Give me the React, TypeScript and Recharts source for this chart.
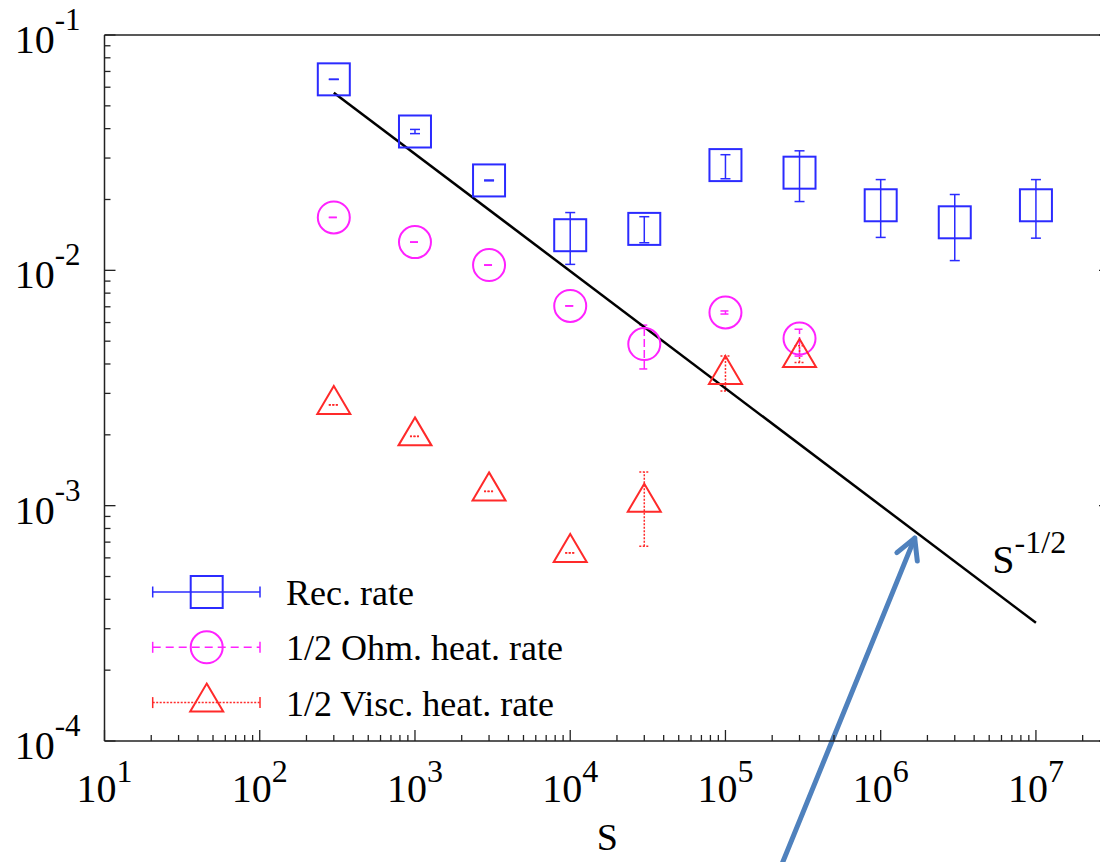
import React from 'react';
import {
  ScatterChart,
  Scatter,
  XAxis,
  YAxis,
  ErrorBar,
  ReferenceLine,
  ReferenceDot,
  Legend,
} from 'recharts';

const FONT = '"Liberation Serif", "Times New Roman", Times, serif';
const BLUE = '#2b2bff';
const MAGENTA = '#ff22ff';
const RED = '#ff2a2a';
const AXIS = '#222222';
const ARROW = '#4f81bd';

// ---- data ----
const recS = [3e2, 1e3, 3e3, 1e4, 3e4, 1e5, 3e5, 1e6, 3e6, 1e7];
const recRate = [0.0648, 0.0389, 0.0241, 0.0141, 0.015, 0.028, 0.026, 0.0189, 0.016, 0.0189];
const recLow = [0.0647, 0.0381, 0.0240, 0.0106, 0.0131, 0.0245, 0.0196, 0.0138, 0.011, 0.0137];
const recHigh = [0.0649, 0.0397, 0.0242, 0.0176, 0.0169, 0.031, 0.0322, 0.0243, 0.021, 0.0243];

const ohmS = [3e2, 1e3, 3e3, 1e4, 3e4, 1e5, 3e5];
const ohmRate = [0.01678, 0.01318, 0.01053, 0.00706, 0.00486, 0.00662, 0.00513];
const ohmLow = [0.01676, 0.01316, 0.01051, 0.00705, 0.00381, 0.00652, 0.00432];
const ohmHigh = [0.0168, 0.0132, 0.01055, 0.00707, 0.00585, 0.00672, 0.00562];

const viscS = [3e2, 1e3, 3e3, 1e4, 3e4, 1e5, 3e5];
const viscRate = [0.00268, 0.00197, 0.00115, 0.00063, 0.00103, 0.00359, 0.00424];
const viscLow = [0.002675, 0.001966, 0.001148, 0.000629, 0.000672, 0.00307, 0.00406];
const viscHigh = [0.002685, 0.001974, 0.001152, 0.000631, 0.00139, 0.00432, 0.00478];

const fitS = [3e2, 1e7];
const fitVal = [0.0569, 0.000318];

const xMajorTicks = [1e1, 1e2, 1e3, 1e4, 1e5, 1e6, 1e7];
const yMajorTicks = [1e-4, 1e-3, 1e-2, 1e-1];
const minorMultipliers = [2, 3, 4, 5, 6, 7, 8, 9];
const xDomain: [number, number] = [10, 3e7];
const yDomain: [number, number] = [1e-4, 1e-1];

const slopeLabel = { x: 5.24e6, y: 5.15e-4, base: 'S', exp: '-1/2' };
const arrowTail = { x: 2.23e5, y: 2.83e-5 };
const arrowTip = { x: 1.656e6, y: 7.28e-4 };

const xAxisTitle = 'S';

// ---- derived tables ----
const buildSeries = (s: number[], v: number[], lo: number[], hi: number[]) =>
  s.map((sv, i) => ({ s: sv, v: v[i], err: [v[i] - lo[i], hi[i] - v[i]] }));

const recData = buildSeries(recS, recRate, recLow, recHigh);
const ohmData = buildSeries(ohmS, ohmRate, ohmLow, ohmHigh);
const viscData = buildSeries(viscS, viscRate, viscLow, viscHigh);
const fitData = fitS.map((s, i) => ({ s, v: fitVal[i] }));

const withMinor = (majors: number[], maxV: number) => {
  const out: number[] = [];
  majors.forEach((m) => {
    out.push(m);
    minorMultipliers.forEach((k) => {
      const v = m * k;
      if (v <= maxV * 1.0001) out.push(v);
    });
  });
  return out.filter((v) => v <= maxV * 1.0001);
};
const xTicks = withMinor(xMajorTicks, xDomain[1]);
const yTicks = withMinor(yMajorTicks, yDomain[1]);

const isMajor = (v: number) => {
  const l = Math.log10(v);
  return Math.abs(l - Math.round(l)) < 1e-6;
};
const expOf = (v: number) => Math.round(Math.log10(v));

const MAJOR_LEN = 11;
const MINOR_LEN = 6;

// ---- markers ----
type Kind = 'square' | 'circle' | 'triangle';
const drawMarker = (kind: Kind, cx: number, cy: number, color: string) => {
  if (kind === 'square') {
    return <rect x={cx - 16} y={cy - 16} width={32} height={32} fill="none" stroke={color} strokeWidth={2} />;
  }
  if (kind === 'circle') {
    return <circle cx={cx} cy={cy} r={16} fill="none" stroke={color} strokeWidth={2} />;
  }
  return (
    <polygon
      points={`${cx},${cy - 19} ${cx + 16.5},${cy + 9} ${cx - 16.5},${cy + 9}`}
      fill="none"
      stroke={color}
      strokeWidth={2}
    />
  );
};

// ---- ticks ----
const renderBottomTick = (props: any) => {
  const { x, y, payload } = props;
  const v = payload.value;
  const major = isMajor(v);
  return (
    <g>
      <line x1={x} y1={y} x2={x} y2={y - (major ? MAJOR_LEN : MINOR_LEN)} stroke={AXIS} strokeWidth={1.3} />
      {major && (
        <text x={x} y={y + 61} textAnchor="middle" fontFamily={FONT} fontSize={40} fill="#000">
          10
          <tspan dy={-20} fontSize={32}>
            {expOf(v)}
          </tspan>
        </text>
      )}
    </g>
  );
};

const renderTopTick = (props: any) => {
  const { x, y, payload } = props;
  const major = isMajor(payload.value);
  return <line x1={x} y1={y} x2={x} y2={y + (major ? MAJOR_LEN : MINOR_LEN)} stroke={AXIS} strokeWidth={1.3} />;
};

const renderLeftTick = (props: any) => {
  const { x, y, payload } = props;
  const v = payload.value;
  const major = isMajor(v);
  return (
    <g>
      <line x1={x} y1={y} x2={x + (major ? MAJOR_LEN : MINOR_LEN)} y2={y} stroke={AXIS} strokeWidth={1.3} />
      {major && (
        <text x={x - 24} y={y + 18} textAnchor="end" fontFamily={FONT} fontSize={40} fill="#000">
          10
          <tspan dy={-23} fontSize={31}>
            {expOf(v)}
          </tspan>
        </text>
      )}
    </g>
  );
};

const renderRightTick = (props: any) => {
  const { x, y, payload } = props;
  const major = isMajor(payload.value);
  return <line x1={x} y1={y} x2={x - (major ? MAJOR_LEN : MINOR_LEN)} y2={y} stroke={AXIS} strokeWidth={1.3} />;
};

// ---- legend ----
const legendRows: { name: string; color: string; dash?: string; kind: Kind }[] = [
  { name: 'Rec. rate', color: BLUE, kind: 'square' },
  { name: '1/2 Ohm. heat. rate', color: MAGENTA, dash: '8 5', kind: 'circle' },
  { name: '1/2 Visc. heat. rate', color: RED, dash: '2 1.5', kind: 'triangle' },
];

const LegendBox = () => (
  <svg width={520} height={160} style={{ display: 'block', overflow: 'visible' }}>
    {legendRows.map((r, i) => {
      const cy = 22 + i * 55.3;
      return (
        <g key={r.name}>
          <line x1={12.7} y1={cy} x2={120} y2={cy} stroke={r.color} strokeWidth={1.5} strokeDasharray={r.dash} />
          <line x1={12.7} y1={cy - 5.5} x2={12.7} y2={cy + 5.5} stroke={r.color} strokeWidth={1.5} />
          <line x1={120} y1={cy - 5.5} x2={120} y2={cy + 5.5} stroke={r.color} strokeWidth={1.5} />
          {drawMarker(r.kind, 66.7, cy, r.color)}
          <text x={146} y={cy + 13} fontFamily={FONT} fontSize={36} fill="#000">
            {r.name}
          </text>
        </g>
      );
    })}
  </svg>
);

// ---- annotations ----
const arrowShape = (p: any) => {
  const { x1, y1, x2, y2 } = p;
  const ang = Math.atan2(y1 - y2, x1 - x2);
  const L = 23;
  const a = 0.5;
  const b1x = x2 + L * Math.cos(ang + a);
  const b1y = y2 + L * Math.sin(ang + a);
  const b2x = x2 + L * Math.cos(ang - a);
  const b2y = y2 + L * Math.sin(ang - a);
  return (
    <g>
      <line x1={x1} y1={y1} x2={x2} y2={y2} stroke={ARROW} strokeWidth={5} strokeLinecap="round" />
      <polyline
        points={`${b1x},${b1y} ${x2},${y2} ${b2x},${b2y}`}
        fill="none"
        stroke={ARROW}
        strokeWidth={5}
        strokeLinecap="round"
        strokeLinejoin="round"
      />
    </g>
  );
};

const slopeLabelShape = (p: any) => (
  <text x={p.cx} y={p.cy} fontFamily={FONT} fontSize={40} fill="#000">
    {slopeLabel.base}
    <tspan dy={-20} fontSize={32}>
      {slopeLabel.exp}
    </tspan>
  </text>
);

const renderAxisTitle = (p: any) => {
  const vb = p.viewBox || {};
  return (
    <text x={vb.x + vb.width / 2} y={vb.y + 109} textAnchor="middle" fontFamily={FONT} fontSize={38} fill="#000">
      {xAxisTitle}
    </text>
  );
};

export default function App() {
  return (
    <div
      style={{
        position: 'absolute',
        left: 0,
        top: 0,
        width: 1100,
        height: 862,
        overflow: 'hidden',
        background: '#fff',
      }}
    >
      <ScatterChart width={1120} height={862} margin={{ top: 34, right: 9, bottom: 120, left: 103.5 }}>
        <XAxis
          xAxisId={0}
          dataKey="s"
          type="number"
          scale="log"
          domain={xDomain}
          allowDataOverflow
          ticks={xTicks}
          interval={0}
          height={1}
          tickSize={0}
          tickMargin={0}
          tickLine={false}
          tick={renderBottomTick}
          axisLine={{ stroke: AXIS, strokeWidth: 1.5 }}
          label={{ content: renderAxisTitle }}
        />
        <XAxis
          xAxisId="top"
          orientation="top"
          type="number"
          scale="log"
          domain={xDomain}
          allowDataOverflow
          ticks={xTicks}
          interval={0}
          height={1}
          tickSize={0}
          tickMargin={0}
          tickLine={false}
          tick={renderTopTick}
          axisLine={{ stroke: AXIS, strokeWidth: 1.5 }}
        />
        <YAxis
          yAxisId={0}
          dataKey="v"
          type="number"
          scale="log"
          domain={yDomain}
          allowDataOverflow
          ticks={yTicks}
          interval={0}
          width={1}
          tickSize={0}
          tickMargin={0}
          tickLine={false}
          tick={renderLeftTick}
          axisLine={{ stroke: AXIS, strokeWidth: 1.5 }}
        />
        <YAxis
          yAxisId="right"
          orientation="right"
          type="number"
          scale="log"
          domain={yDomain}
          allowDataOverflow
          ticks={yTicks}
          interval={0}
          width={1}
          tickSize={0}
          tickMargin={0}
          tickLine={false}
          tick={renderRightTick}
          axisLine={{ stroke: AXIS, strokeWidth: 1.5 }}
        />

        <Scatter
          name="fit"
          data={fitData}
          line={{ stroke: '#000', strokeWidth: 2.5 }}
          lineType="joint"
          shape={() => <g />}
          legendType="none"
          isAnimationActive={false}
        />
        <Scatter
          name="Rec. rate"
          data={recData}
          shape={(p: any) => drawMarker('square', p.cx, p.cy, BLUE)}
          isAnimationActive={false}
        >
          <ErrorBar dataKey="err" direction="y" width={5} stroke={BLUE} strokeWidth={1.5} isAnimationActive={false} />
        </Scatter>
        <Scatter
          name="1/2 Ohm. heat. rate"
          data={ohmData}
          shape={(p: any) => drawMarker('circle', p.cx, p.cy, MAGENTA)}
          isAnimationActive={false}
        >
          <ErrorBar
            dataKey="err"
            direction="y"
            width={5}
            stroke={MAGENTA}
            strokeWidth={1.5}
            strokeDasharray="8 3"
            isAnimationActive={false}
          />
        </Scatter>
        <Scatter
          name="1/2 Visc. heat. rate"
          data={viscData}
          shape={(p: any) => drawMarker('triangle', p.cx, p.cy, RED)}
          isAnimationActive={false}
        >
          <ErrorBar
            dataKey="err"
            direction="y"
            width={5}
            stroke={RED}
            strokeWidth={1.5}
            strokeDasharray="2 1.5"
            isAnimationActive={false}
          />
        </Scatter>

        <ReferenceDot x={slopeLabel.x} y={slopeLabel.y} ifOverflow="visible" shape={slopeLabelShape} />
        <ReferenceLine segment={[arrowTail, arrowTip]} ifOverflow="visible" shape={arrowShape} />

        <Legend
          layout="vertical"
          align="center"
          verticalAlign="middle"
          content={() => <LegendBox />}
          wrapperStyle={{ position: 'absolute', left: 140, top: 570, width: 520, height: 160 }}
        />
      </ScatterChart>
    </div>
  );
}
